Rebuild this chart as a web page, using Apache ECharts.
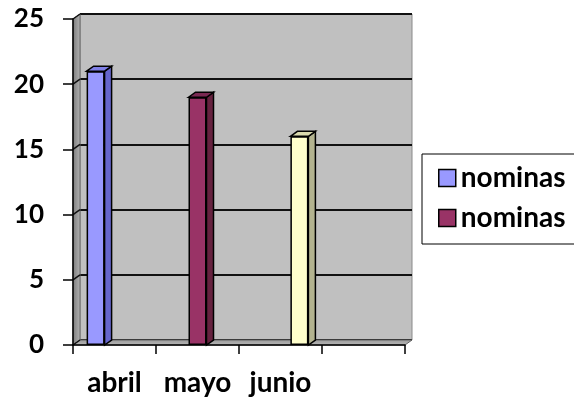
<!DOCTYPE html>
<html>
<head>
<meta charset="utf-8">
<script src="https://cdn.jsdelivr.net/npm/echarts@6/dist/echarts.min.js"></script>
<style>
html,body{margin:0;padding:0;background:#fff;}
#c{width:574px;height:402px;}
</style>
</head>
<body>
<div id="c"></div>
<script>
// ---- data ----
const categories = ['abril', 'mayo', 'junio', ''];
const values = [21, 19, 16];
const seriesNames = ['nominas', 'nominas', 'nominas'];
const legendCount = 2;
const yMin = 0, yMax = 25, yStep = 5;

// ---- styles ----
const frontColors = ['#9999FF', '#993366', '#FFFFCC'];
const sideColors = ['#6666CC', '#66223F', '#B3B38F'];
const topColors = ['#8080E6', '#7A2952', '#D9D9AD'];
const FONT = 'Lato, "Noto Sans", sans-serif';

// layout
const G = { left: 73, top: 19, width: 332, height: 326 };
const DX = 7, DY = -5;
const BAR_W = 18, BAR_GAP = 0.05;

const chart = echarts.init(document.getElementById('c'), null, { renderer: 'canvas' });

const barSeries = values.map((v, i) => ({
  type: 'bar',
  name: seriesNames[i] + '#' + i,
  xAxisIndex: 0, yAxisIndex: 0,
  data: categories.map((c, j) => (j === i ? v : '-')),
  barWidth: BAR_W,
  barGap: (BAR_GAP * 100) + '%',
  itemStyle: { color: frontColors[i], borderColor: '#000', borderWidth: 1.5 },
  z: 3,
  animation: false
}));

const faceSeries = values.map((v, i) => ({
  type: 'custom',
  name: 'face' + i,
  xAxisIndex: 0, yAxisIndex: 0,
  data: [[i, v]],
  z: 2,
  animation: false,
  renderItem: function (params, api) {
    const cat = api.value(0), val = api.value(1);
    const t = api.coord([cat, val]);
    const b = api.coord([cat, 0]);
    const off = (i - (values.length - 1) / 2) * BAR_W * (1 + BAR_GAP);
    const cx = t[0] + off;
    const x0 = cx - BAR_W / 2, x1 = cx + BAR_W / 2;
    return {
      type: 'group',
      children: [
        { type: 'polygon', shape: { points: [[x1, t[1]], [x1 + DX, t[1] + DY], [x1 + DX, b[1] + DY], [x1, b[1]]] },
          style: { fill: sideColors[i], stroke: '#000', lineWidth: 1.5 } },
        { type: 'polygon', shape: { points: [[x0, t[1]], [x0 + DX, t[1] + DY], [x1 + DX, t[1] + DY], [x1, t[1]]] },
          style: { fill: topColors[i], stroke: '#000', lineWidth: 1.5 } }
      ]
    };
  }
}));

const option = {
  animation: false,
  backgroundColor: '#ffffff',
  textStyle: { fontFamily: FONT },
  grid: [
    { left: G.left, top: G.top, width: G.width, height: G.height, containLabel: false },
    { left: G.left + DX, top: G.top + DY, width: G.width, height: G.height,
      show: true, backgroundColor: '#C0C0C0', borderColor: '#8a8a8a', borderWidth: 1 }
  ],
  xAxis: [
    { type: 'category', gridIndex: 0, data: categories, boundaryGap: true,
      axisLine: { show: true, lineStyle: { color: '#000', width: 1.5 } },
      axisTick: { show: true, length: 9, alignWithLabel: false, lineStyle: { color: '#000', width: 1.5 } },
      axisLabel: { color: '#000', fontWeight: 'bold', fontSize: 28, fontFamily: FONT, margin: 24, interval: 0 },
      z: 4 },
    { type: 'category', gridIndex: 1, data: categories, show: false }
  ],
  yAxis: [
    { type: 'value', gridIndex: 0, min: yMin, max: yMax, interval: yStep,
      axisLine: { show: true, lineStyle: { color: '#000', width: 1.5 } },
      axisTick: { show: true, length: 10, lineStyle: { color: '#000', width: 1.5 } },
      splitLine: { show: false },
      axisLabel: { color: '#000', fontWeight: 'bold', fontSize: 26, fontFamily: FONT, margin: 29 },
      z: 4 },
    { type: 'value', gridIndex: 1, min: yMin, max: yMax, interval: yStep,
      axisLine: { show: false }, axisTick: { show: false }, axisLabel: { show: false },
      splitLine: { show: true, lineStyle: { color: '#111', width: 2 } } }
  ],
  legend: {
    show: true,
    left: 422, top: 154,
    orient: 'vertical',
    data: barSeries.slice(0, legendCount).map(s => s.name),
    formatter: n => n.split('#')[0],
    icon: 'rect',
    itemWidth: 17, itemHeight: 17,
    itemGap: 12,
    padding: [10, 40, 12, 16],
    backgroundColor: '#fff',
    borderColor: '#000', borderWidth: 1,
    itemStyle: { borderColor: '#000', borderWidth: 1.5 },
    textStyle: { color: '#000', fontWeight: 'bold', fontSize: 28, fontFamily: FONT, padding: [0, 0, 0, 0] },
    selectedMode: false
  },
  series: [...faceSeries, ...barSeries]
};

chart.setOption(option);

// 3D walls (side wall, floor, gridline joints) computed from axis scales
const yPix = t => chart.convertToPixel({ yAxisIndex: 0 }, t);
const xL = G.left, xR = G.left + G.width;
const yT = yPix(yMax), yB = yPix(yMin);
const gfx = [
  { type: 'polygon', z: 1, silent: true,
    shape: { points: [[xL, yT], [xL + DX, yT + DY], [xL + DX, yB + DY], [xL, yB]] },
    style: { fill: new echarts.graphic.LinearGradient(0, 0, 1, 0, [{ offset: 0, color: '#7a7a7a' }, { offset: 1, color: '#b4b4b4' }]), stroke: '#666', lineWidth: 1 } },
  { type: 'polygon', z: 1, silent: true,
    shape: { points: [[xL, yB], [xL + DX, yB + DY], [xR + DX, yB + DY], [xR, yB]] },
    style: { fill: new echarts.graphic.LinearGradient(0, 0, 0, 1, [{ offset: 0, color: '#9a9a9a' }, { offset: 1, color: '#b8b8b8' }]), stroke: '#666', lineWidth: 1 } }
];
for (let t = yMin; t <= yMax; t += yStep) {
  const y = yPix(t);
  gfx.push({ type: 'line', z: 1, silent: true,
    shape: { x1: xL, y1: y, x2: xL + DX, y2: y + DY },
    style: { stroke: '#111', lineWidth: 1.5 } });
}
chart.setOption({ graphic: gfx });
</script>
</body>
</html>
